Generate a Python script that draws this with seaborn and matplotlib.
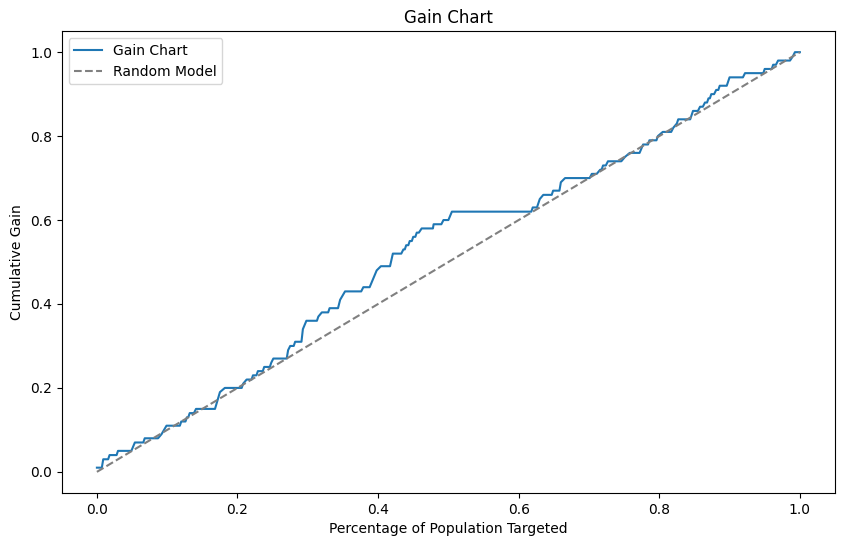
import matplotlib
matplotlib.use("Agg")
import matplotlib.pyplot as plt
import seaborn as sns
import pandas as pd

# ================= 数据 =================
# gain curve vertices
pop_pct = [
    0.000, 0.007, 0.009, 0.016, 0.018, 0.028, 0.030, 0.049, 0.054, 0.066,
    0.068, 0.087, 0.092, 0.099, 0.118, 0.120, 0.126, 0.128, 0.130, 0.132,
    0.138, 0.141, 0.168, 0.175, 0.182, 0.206, 0.208, 0.213, 0.220, 0.222,
    0.227, 0.229, 0.236, 0.238, 0.246, 0.248, 0.251, 0.270, 0.272, 0.275,
    0.280, 0.282, 0.291, 0.293, 0.298, 0.313, 0.315, 0.320, 0.329, 0.331,
    0.343, 0.346, 0.353, 0.376, 0.379, 0.388, 0.393, 0.398, 0.404, 0.417,
    0.421, 0.433, 0.436, 0.438, 0.440, 0.443, 0.445, 0.448, 0.450, 0.453,
    0.455, 0.458, 0.462, 0.478, 0.479, 0.490, 0.493, 0.500, 0.505, 0.618,
    0.620, 0.626, 0.630, 0.635, 0.647, 0.649, 0.658, 0.660, 0.666, 0.701,
    0.704, 0.711, 0.716, 0.718, 0.720, 0.724, 0.727, 0.746, 0.751, 0.758,
    0.772, 0.777, 0.784, 0.786, 0.796, 0.798, 0.805, 0.817, 0.820, 0.825,
    0.827, 0.844, 0.848, 0.855, 0.858, 0.862, 0.865, 0.868, 0.870, 0.872,
    0.874, 0.878, 0.881, 0.884, 0.886, 0.896, 0.900, 0.919, 0.922, 0.948,
    0.950, 0.960, 0.962, 0.966, 0.969, 0.986, 0.990, 0.993, 1.000,
]
cum_gain = [
    0.01, 0.01, 0.03, 0.03, 0.04, 0.04, 0.05, 0.05, 0.07, 0.07,
    0.08, 0.08, 0.09, 0.11, 0.11, 0.12, 0.12, 0.13, 0.13, 0.14,
    0.14, 0.15, 0.15, 0.19, 0.20, 0.20, 0.21, 0.22, 0.22, 0.23,
    0.23, 0.24, 0.24, 0.25, 0.25, 0.26, 0.27, 0.27, 0.29, 0.30,
    0.30, 0.31, 0.31, 0.34, 0.36, 0.36, 0.37, 0.38, 0.38, 0.39,
    0.39, 0.41, 0.43, 0.43, 0.44, 0.44, 0.46, 0.48, 0.49, 0.49,
    0.52, 0.52, 0.53, 0.53, 0.54, 0.54, 0.55, 0.55, 0.56, 0.56,
    0.57, 0.57, 0.58, 0.58, 0.59, 0.59, 0.60, 0.60, 0.62, 0.62,
    0.63, 0.63, 0.65, 0.66, 0.66, 0.67, 0.67, 0.69, 0.70, 0.70,
    0.71, 0.71, 0.72, 0.72, 0.73, 0.73, 0.74, 0.74, 0.75, 0.76,
    0.76, 0.78, 0.78, 0.79, 0.79, 0.80, 0.81, 0.81, 0.82, 0.83,
    0.84, 0.84, 0.86, 0.86, 0.87, 0.87, 0.88, 0.88, 0.89, 0.89,
    0.90, 0.90, 0.91, 0.91, 0.92, 0.92, 0.94, 0.94, 0.95, 0.95,
    0.96, 0.96, 0.97, 0.97, 0.98, 0.98, 0.99, 1.00, 1.00,
]
random_x = [0.0, 1.0]
random_y = [0.0, 1.0]

gain_df = pd.DataFrame({'x': pop_pct, 'y': cum_gain})
rand_df = pd.DataFrame({'x': random_x, 'y': random_y})

# ================= 绘图 =================
fig = plt.figure(figsize=(8.46, 5.47), dpi=100)
ax = fig.add_subplot(111)
fig.subplots_adjust(left=0.073, right=0.987, top=0.943, bottom=0.099)

sns.lineplot(data=gain_df, x='x', y='y', ax=ax, estimator=None, sort=False,
             color='tab:blue', label='Gain Chart')
sns.lineplot(data=rand_df, x='x', y='y', ax=ax, estimator=None, sort=False,
             color='gray', linestyle='--', label='Random Model')

ax.set_title('Gain Chart')
ax.set_xlabel('Percentage of Population Targeted')
ax.set_ylabel('Cumulative Gain')
ax.legend(loc='upper left')

fig.savefig('out.png', dpi=100)
